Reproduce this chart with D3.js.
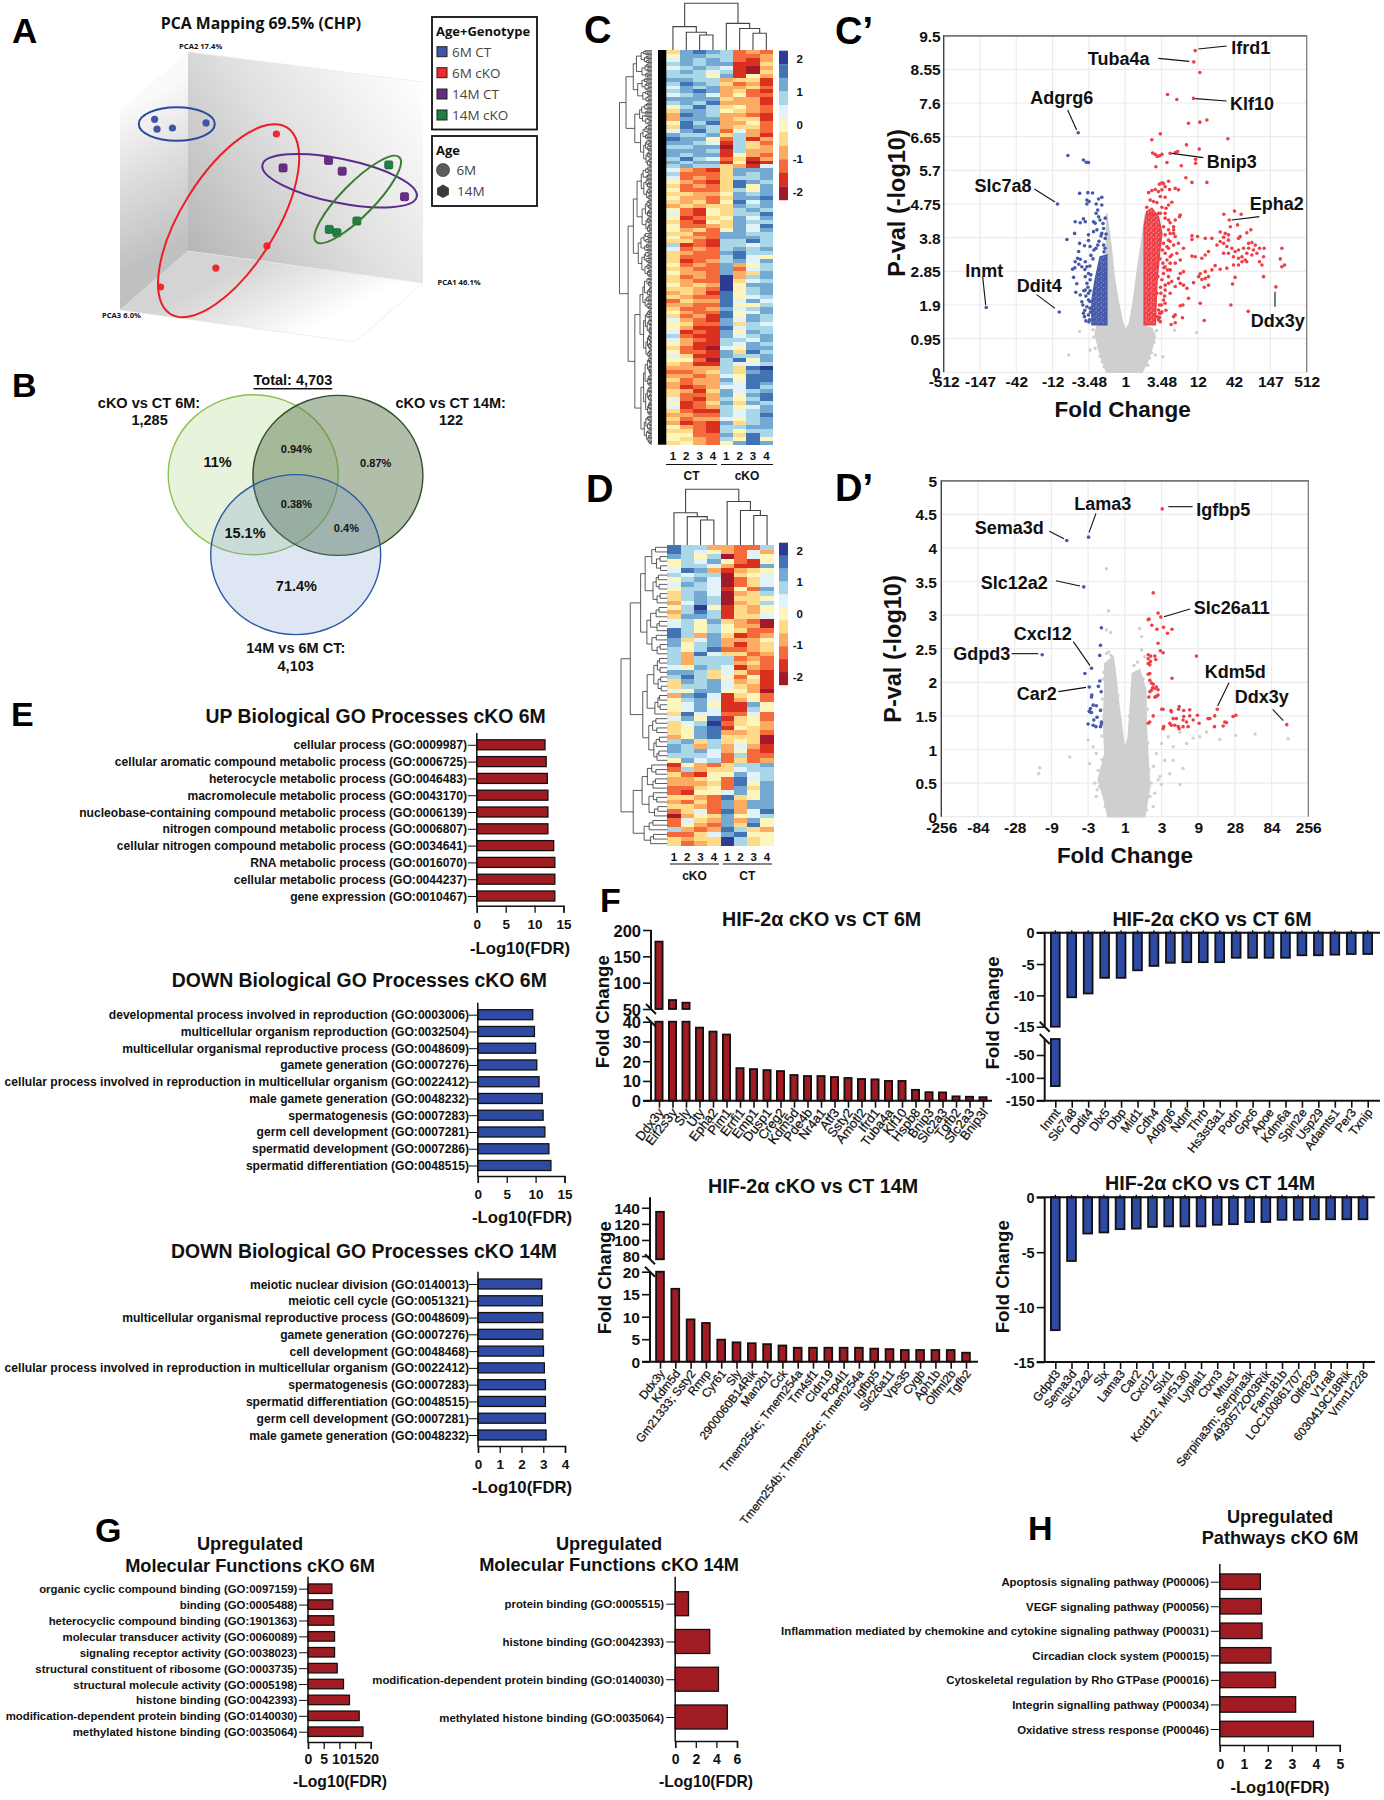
<!DOCTYPE html>
<html><head><meta charset="utf-8">
<style>html,body{margin:0;background:#fff}svg{display:block}text{font-family:"Liberation Sans",Arial,sans-serif;fill:#111}</style>
<script src="https://cdn.jsdelivr.net/npm/d3@7"></script>
</head><body><script>
// ---------- PCA ----------
const pcaGroups=["6M CT","6M cKO","14M CT","14M cKO"];
const pc1={"6M CT":[15.6,16.3,20.7,30.3],"6M cKO":[50.4,47.7,33.1,17.3],"14M CT":[52.3,65.3,69.2,87],"14M cKO":[82.5,73.4,65.5,67.7]};
const pc2={"6M CT":[76.9,73.6,74,75.7],"6M cKO":[72,34.7,27.3,21],"14M CT":[60.7,63.2,59.6,51.1],"14M cKO":[61.7,43,40.2,39.1]};
const pcaColors=["#3f56a8","#ee2a2e","#6b2a86","#1f7f45"];
// ---------- Heatmaps (level 0..A = -2..+2 in 0.4 steps) ----------
const heatC=["48987232","58877223","68787213","78788114","67876103","78767104","77758153","88773441","79874231","68783342","78983421","67863522","88884331","78793331","57974532","48875432","39873321","38883441","59793352","49873442","68972632","87784731","98852713","88761742","77880743","88871733","87881532","79762413","87881501","78774316",
"63214888","72224878","62324778","53214987","42324958","52224758","44335878","53324889","43425968","34344878","52154787","62154779","51245868","42154877","52234869","53425868","44228877","53328887","44217797","71217767","62327878","43228977","42227965","41237868","52328357","43228267","53328348","4232A378","4322A467","5343A588","4432A578","34319578","43229567","24339686","33229557","42238678","53229568","42319587","63218687","54228476","53119677","61218587","72118678","63217768","53117687","42106588","52218497","64118778","55207958","43117667",
"3333749A","22347489","33236599","42338599","32337698","31236697","43148678","42238589","62137579","51248487","61237568","42117678","33227679","42336578","31218478","53217788","44217577","55228497","54327595","45325898"];
const heatD=["97733227","97653263","87570265","57685215","57763118","69831345","76770456","57860246","68760246","57761528","47860347","47870445","36870347","57A51435","37971435","48871446","67584320","67575330","97575422","97384123","84683335","85783134","75792234","73964423","73777232","73777342","65876132","88746421","79745251","48786341","47786431","65885530","38961452","57861352","56851185","56861175","49662262","68591452","467A2453","45891543","45893342","35894440","78474540","87373631","87863521","77762722","58672423","15324778","27344677","42155867","33452967","33342958","22452848","21556858","44329458","32428388","44328388","24629369","03548567","26438385","25328495","73239743","22468955","4344A745","4234A745"];
const heatColors=["#a2192c","#d9301f","#f46a3b","#fbab62","#fedb88","#fef5bd","#e1f3f8","#a9d7e8","#74aad1","#4274b5","#2e3a94"];
const legendTicks=[2,1,0,-1,-2];
const colTreeC=[1,[.5,0,[.38,1,[.32,2,3]]],[.57,4,[.46,5,[.36,6,7]]]];
const colTreeD=[1,[.58,0,[.51,1,[.45,2,3]]],[.78,4,[.62,5,[.53,6,7]]]];
const rowSplitsC=[.296,.45,.52,.48,.4,.6,.5,.35,.55,.62,.44,.5,.38,.66,.5,.57,.42];
const rowSplitsD=[.725,.52,.55,.45,.4,.6,.5,.36,.58,.62,.44,.5,.38,.66,.5,.57,.42];
const rowStep=[.22,.2,.28,.17,.3,.24,.18,.33,.26,.21];
// ---------- Volcano C' (x = signed log2 fold change, y = -log10 p) ----------
const cTickPos=[-9,-7.2,-5.4,-3.6,-1.8,0,1.8,3.6,5.4,7.2,9];
const cTickLab=["-512","-147","-42","-12","-3.48","1","3.48","12","42","147","512"];
const cYTicks=[0,.95,1.9,2.85,3.8,4.75,5.7,6.65,7.6,8.55,9.5];
const cGrayX=[-.92,-1.08,-1.33,-1.49,-1.41,-.92,-.92,-.78,-.66,-.55,-.33,-.12,.02,.21,.41,.61,.83,1,1.05,1.33,1.49,1.33,1.07,.83];
const cGrayY=[0,.25,.68,1.1,1.3,1.34,4.49,3.92,3.35,2.7,1.95,1.38,1.19,1.38,2.04,2.9,3.75,4.49,1.29,1.24,1.01,.68,.25,0];
const cGrayPtsX=[-2.26,-2.81,-1.74,-1.49,1.87,1.49,1.24,2.45,3.54,1.4,-1.6,-1.55,-1.25,-1.15,-1.05,1.2,1.3,1.42,1.55,1.12];
const cGrayPtsY=[1.15,.49,.63,.68,.44,.49,.71,1.19,1.12,1.1,1.2,1,.45,.3,.15,.4,.55,.85,1.18,.2];
const cRedDenseX=[.94,1.49,1.57,1.7,1.82,1.65,1.32,1.07,.94];
const cRedDenseY=[1.34,1.34,2.51,3.36,3.92,4.39,4.63,4.53,4.11];
const cBlueDenseX=[-.91,-.91,-1.24,-1.49,-1.65,-1.65];
const cBlueDenseY=[1.34,3.31,3.26,2.61,2.04,1.34];
const cRedX=[3.47,3.4,3.7,2.1,2.56,3.39,4.05,3.7,3.14,1.74,1.32,5.09,3.04,3.67,1.36,1.49,1.59,1.7,1.82,2.23,2.48,2.6,3.49,3.49,2.07,2.78,1.52,3.01,3.31,4.05,
1.82,1.9,1.7,2.15,1.98,2.48,2.64,1.32,1.49,1.65,1.82,1.16,2.2,1.74,1.98,1.4,1.57,1.24,2.31,2.15,1.82,2.03,1.07,2.73,2.48,2.23,2.4,1.98,1.65,1.32,
4.89,5.42,5.75,5.16,5.57,5.21,4.71,4.96,5.12,6.23,6.03,5.7,4.88,5.12,5.62,6.12,6.28,6.45,5.87,6.12,6.36,6.89,6.66,4.88,5.04,5.29,5.62,4.88,5.12,5.45,6.03,6.28,6.53,6.86,7.77,7.69,7.9,7.77,5.37,5.62,5.79,5.95,5.37,5.62,5.79,6.03,6.66,6.78,6.86,5.45,5.32,7.47,5.24,6.1,4.71,4.55,4.3,3.97,3.59,3.31,3.31,4.13,3.97,3.8,3.47,3.31,4.46,4.71,5.04,4.3,3.97,3.72,3.64,3.97,4.13,3.8,3.39,4.13,3.92,3.72,3.92,
2.4,2.48,2.15,2.4,2.64,2.89,2.15,2.56,2.23,2.07,2.73,2.48,1.98,2.23,2.73,2.89,2.64,2.15,2.31,2.89,3.06,2.73,2.48,1.98,2.23,3.14,2.73,2.86,1.98,1.82,1.7,2.48,2.84,2.48,2.28,2.4,
1.65,1.77,1.7,1.9,1.77,1.98,1.82,2.15,1.9,2.1,1.87,2.23,1.98,2.31,2.07,1.9,2.23,1.98,2.15,1.9,2.23,2.4,1.74,1.98,2.15,2.69,1.57,1.65,1.74,1.57,1.62,1.72,1.85,1.95,1.7,1.8,1.6,1.75,1.92,2.02];
const cRedY=[9.08,8.76,8.46,7.84,7.7,7.73,7.12,7.06,7.03,6.73,6.56,6.59,6.42,6.3,6.19,6.15,6.09,6.11,6.15,6.18,6.2,6.23,6.01,5.9,5.92,5.83,5.8,5.49,5.36,5.36,
5.35,5.33,5.31,5.39,5.24,5.19,5.15,5.13,5.16,5.1,5.15,5.07,5.16,4.96,4.94,4.82,4.79,4.86,4.8,4.72,4.66,4.63,4.66,4.44,4.3,4.22,4.02,4.49,4.49,4.44,
4.46,4.55,4.46,4.3,4.16,4.11,3.96,3.92,3.88,4.02,3.94,3.83,3.81,3.73,3.78,3.64,3.66,3.59,3.5,3.5,3.45,3.5,3.5,3.64,3.55,3.5,3.45,3.36,3.36,3.41,3.36,3.31,3.36,3.26,3.5,3.2,3.03,2.98,3.26,3.22,3.26,3.17,3.03,3.03,3.12,3.12,3.12,3.03,2.7,2.68,2.49,2.41,1.9,1.72,3.69,3.59,3.78,3.78,3.83,3.85,3.75,3.41,3.31,3.22,3.26,3.28,3.01,2.91,2.94,2.89,2.84,2.78,2.7,2.65,2.7,2.62,2.53,2.46,2.4,1.95,1.46,
3.92,3.83,3.73,3.59,3.64,3.5,3.5,3.36,3.26,3.17,3.17,3.08,2.98,2.89,2.79,2.84,2.65,2.7,2.56,2.46,2.37,2.51,2.42,2.32,2.23,2.09,1.88,1.9,1.95,1.71,1.67,1.62,1.54,1.4,1.35,1.57,
1.48,1.67,1.9,2.04,2.23,2.46,2.61,2.51,2.79,2.89,3.08,3.08,3.36,3.31,3.55,3.64,3.69,3.88,4.02,4.11,3.92,4.11,4.49,4.35,4.3,4.39,1.57,1.76,1.43,2.23,2.7,3.2,3.45,2.15,1.55,1.9,3.0,2.4,2.95,1.75];
const cBlueX=[-2.33,-2.84,-2.07,-1.93,-1.82,-2.26,-1.85,-1.62,-3.36,-1.16,-1.32,-1.9,-1.79,-1.9,-1.44,-1.16,-1.36,-1.44,-.99,-1.32,-2.48,-2.23,-2.07,-1.98,-1.57,-1.49,-2.51,-2.89,-1.82,-1.57,-1.4,-1.07,-1.16,-.99,-1.82,-2.26,-2.02,-1.74,-2.31,-1.36,-1.07,-2.36,-2.48,-2.23,-1.98,-2.61,-1.9,-2.15,-1.82,-1.98,-2.56,-1.74,-1.9,-2.45,-2.23,-1.98,-1.82,-2.15,-1.82,-3.27,-6.89,-2.07,-2.02,-1.82,-1.74,-1.77,
-1.74,-1.85,-1.95,-2.05,-1.75,-1.9,-2,-1.72,-1.8,-1.95,-2.1,-1.7,-1.75,-1.6,-1.7,-1.55,-1.45,-1.3,-1.2,-1.05,-1,-.95,-1.1,-1.25,-2,-2.3,-2.5,-2.4];
const cBlueY=[6.76,6.12,5.99,5.93,5.92,5.05,5.07,5.06,4.75,4.94,4.89,4.86,4.82,4.75,4.75,4.72,4.58,4.49,4.35,4.39,4.25,4.22,4.33,4.25,4.25,4.21,3.92,3.75,3.88,3.97,4.02,4.06,3.92,3.78,3.72,3.64,3.57,3.55,3.41,3.59,3.59,3.22,3.12,3.19,3.12,2.91,2.98,2.98,2.79,2.7,2.68,2.61,2.51,2.26,2.18,2.32,2.23,1.99,2.04,1.7,1.83,1.67,1.57,1.62,1.81,1.48,
2.3,2.4,2.15,2.3,2,1.85,1.75,1.7,1.42,1.45,1.9,2.75,3,3.2,3.3,3.45,3.5,3.7,3.85,3.4,3.5,3.9,4.2,4.3,2.9,3.05,2.95,2.5];
const cLabels=["Ifrd1","Tuba4a","Klf10","Adgrg6","Bnip3","Slc7a8","Epha2","Inmt","Ddit4","Ddx3y"];
// ---------- Volcano D' ----------
const dTickPos=[-8,-6.4,-4.8,-3.2,-1.6,0,1.6,3.2,4.8,6.4,8];
const dTickLab=["-256","-84","-28","-9","-3","1","3","9","28","84","256"];
const dYTicks=[0,.5,1,1.5,2,2.5,3,3.5,4,4.5,5];
const dGrayX=[-.73,-.94,-1.16,-.87,-.94,-.87,-.87,-.51,-.39,-.25,-.1,0,.15,.25,.33,.65,.92,.94,1.02,1.09,.87];
const dGrayY=[0,.3,.55,.94,1.44,1.88,2.28,2.38,2.08,1.64,1.24,.99,1.19,1.69,2.13,2.19,1.88,1.34,.84,.45,0];
const dGrayPtsX=[-.8,-.71,-.8,-.62,-.8,.65,.73,.73,.87,-1.6,-1.38,-1.53,-1.24,-1.16,-2.4,-3.71,-3.75,1.6,1.89,2.11,2.4,2.69,2.98,3.27,3.56,4.14,4.83,5.68,7.12,2.11,2.54,2.4,1.53,1.24,1.16,1.38,1.74,1.96,
-1,-1.05,-.98,-.95,-.92,-.7,-.6,-.45,-.3,-.2,.2,.3,.4,.55,.8,.98,1,1.05,1.1,-1,-1.1,-1.2,-.85,.95,-1.3,-1.25,1.3,1.45,1.6,1.25];
const dGrayPtsY=[3.69,3.06,2.78,2.74,2.43,2.8,2.68,2.48,2.38,1.14,1.04,.79,.94,.69,.89,.73,.64,1.09,1.19,1.04,1.26,1.09,1.17,1.19,1.26,1.15,1.21,1.23,1.16,.84,.72,.48,.6,.15,.5,.94,.84,.64,
1.2,1.6,1.75,2.05,2.15,2.45,2.4,2.2,1.8,1.45,1.5,1.9,2.25,2.3,2.05,1.6,1.1,.7,.3,.85,.45,.4,.15,.1,.5,.3,.35,.55,.48,.75];
const dRedX=[1.63,1.24,1.45,1.57,1.02,1.06,1.18,1.4,1.69,2.06,1.86,1.45,1.55,1.67,3.12,1.02,1.13,1.31,1.35,1.02,1.12,1.02,1.09,1.02,1.09,2.06,1.09,1.16,1.24,1.38,1.45,1.31,1.16,1.09,1.21,1.05,1.31,1.45,1.38,
1.67,1.61,2.01,2.03,2.34,2.37,2.57,2.83,3.17,4.03,3.92,3.71,3.63,4.84,4.72,3.91,4.29,4.36,4.43,7.06,1.24,1.02,1.09,1.7,1.67,1.96,2.03,2.11,2.25,2.33,2.37,2.57,2.54,2.69,2.83,2.76,2.98,3.24,2.18,2.54];
const dRedY=[4.58,3.33,3.03,2.97,2.93,2.94,2.85,2.79,2.82,2.79,2.73,2.58,2.47,2.44,2.39,2.41,2.39,2.39,2.34,2.35,2.31,2.28,2.26,2.12,2.13,2.06,2.03,1.99,1.97,1.93,1.89,1.91,1.88,1.86,1.92,1.78,1.78,1.81,1.79,
1.6,1.6,1.58,1.56,1.6,1.64,1.58,1.59,1.51,1.6,1.5,1.46,1.46,1.51,1.49,1.34,1.35,1.41,1.4,1.37,1.5,1.39,1.41,1.34,1.31,1.39,1.36,1.46,1.46,1.34,1.31,1.49,1.44,1.41,1.5,1.34,1.44,1.39,1.36,1.34];
const dBlueX=[-2.53,-1.58,-1.79,-1.02,-1.06,-1.09,-3.6,-1.45,-1.74,-1.55,-1.09,-1.15,-1.03,-1.44,-1.45,-1.38,-1.24,-1.5,-1.53,-1.45,-1.55,-1.06,-1.21,-1.35,-1.6,-1.38,-1.26,-1.02,-1.02,-1.06];
const dBlueY=[4.11,4.16,3.42,2.81,2.55,2.4,2.41,2.21,2.13,1.93,2.02,1.94,1.86,1.81,1.78,1.66,1.65,1.61,1.56,1.55,1.57,1.58,1.48,1.44,1.38,1.36,1.34,1.41,1.38,1.34];
const dLabels=["Lama3","Igfbp5","Sema3d","Slc12a2","Slc26a11","Cxcl12","Gdpd3","Car2","Kdm5d","Ddx3y"];
// ---------- Panel E ----------
const e1Labels=["cellular process (GO:0009987)","cellular aromatic compound metabolic process (GO:0006725)","heterocycle metabolic process (GO:0046483)","macromolecule metabolic process (GO:0043170)","nucleobase-containing compound metabolic process (GO:0006139)","nitrogen compound metabolic process (GO:0006807)","cellular nitrogen compound metabolic process (GO:0034641)","RNA metabolic process (GO:0016070)","cellular metabolic process (GO:0044237)","gene expression (GO:0010467)"];
const e1Values=[11.8,12,12.2,12.3,12.3,12.3,13.3,13.5,13.5,13.5];
const e2Labels=["developmental process involved in reproduction (GO:0003006)","multicellular organism reproduction (GO:0032504)","multicellular organismal reproductive process (GO:0048609)","gamete generation (GO:0007276)","cellular process involved in reproduction in multicellular organism (GO:0022412)","male gamete generation (GO:0048232)","spermatogenesis (GO:0007283)","germ cell development (GO:0007281)","spermatid development (GO:0007286)","spermatid differentiation (GO:0048515)"];
const e2Values=[9.5,9.8,10,10.2,10.6,11.15,11.3,11.6,12.3,12.65];
const e3Labels=["meiotic nuclear division (GO:0140013)","meiotic cell cycle (GO:0051321)","multicellular organismal reproductive process (GO:0048609)","gamete generation (GO:0007276)","cell development (GO:0048468)","cellular process involved in reproduction in multicellular organism (GO:0022412)","spermatogenesis (GO:0007283)","spermatid differentiation (GO:0048515)","germ cell development (GO:0007281)","male gamete generation (GO:0048232)"];
const e3Values=[2.93,2.96,2.98,2.98,3.01,3.05,3.1,3.1,3.1,3.13];
// ---------- Panel F ----------
const f1Labels=["Ddx3y","Eif2s3y","Sly","Uty","Epha2","Pim1","Errfi1","Emp1","Dusp1","Creg2","Kdm5d","Pde4b","Nr4a1","Atf3","Ssty2","Amotl2","Ifrd1","Tuba4a","Klf10","Hspb8","Bnip3","Slc2a3","Tgfb2","Slc2a3","Bnip3l"];
const f1Values=[178,67,62,37,35,33.5,16.5,16,15.5,15,13,12.5,12.5,12,11.5,11,10.8,10,10,5.5,4.3,4.2,2.2,2,1.8];
const f2Labels=["Inmt","Slc7a8","Ddit4","Dlx5","Dbp","Mid1","Cdh4","Adgrg6","Ndnf","Thrb","Hs3st3a1","Podn","Gpc6","Apoe","Kdm6a","Spin2e","Usp29","Adamts1","Per3","Txnip"];
const f2Values=[-118,-10.3,-9.7,-7.2,-7.2,-6,-5.3,-4.8,-4.7,-4.7,-4.7,-4,-4,-4,-4,-3.6,-3.6,-3.5,-3.4,-3.4];
const f3Labels=["Ddx3y","Kdm5d","Gm21333; Ssty2","Rmrp","Cyr61","Sly","2900060B14Rik","Man2b1","Cck","Tmem254c; Tmem254a","Tm4sf1","Cldn19","Pcp4l1","Tmem254b; Tmem254c; Tmem254a","Igfbp5","Slc26a11","Vps35","Cygb","Aph1b","Olfml2b","Tgfb2"];
const f3Values=[135,16.2,9.4,8.6,4.9,4.3,4.1,3.9,3.6,3.1,3.1,3.1,3.1,3.1,2.9,2.8,2.6,2.6,2.6,2.6,2];
const f4Labels=["Gdpd3","Sema3d","Slc12a2","Slx","Lama3","Car2","Cxcl12","Slxl1","Kctd12; Mir5130","Lyplal1","Ctxn3","Mtus1","Serpina3m; Serpina3k","4930572O03Rik","Fam181b","LOC100861707","Olfr829","V1ra8","6030419C18Rik","Vmn1r228"];
const f4Values=[-12.1,-5.8,-3.3,-3.2,-2.9,-2.85,-2.7,-2.65,-2.65,-2.65,-2.5,-2.45,-2.25,-2.25,-2.05,-2.05,-2,-2,-2,-2];
// ---------- Panels G, H ----------
const g1Labels=["organic cyclic compound binding (GO:0097159)","binding (GO:0005488)","heterocyclic compound binding (GO:1901363)","molecular transducer activity (GO:0060089)","signaling receptor activity (GO:0038023)","structural constituent of ribosome (GO:0003735)","structural molecule activity (GO:0005198)","histone binding (GO:0042393)","modification-dependent protein binding (GO:0140030)","methylated histone binding (GO:0035064)"];
const g1Values=[7.6,7.9,8.2,8.45,8.45,9.3,11.3,13.2,16.3,17.5];
const g2Labels=["protein binding (GO:0005515)","histone binding (GO:0042393)","modification-dependent protein binding (GO:0140030)","methylated histone binding (GO:0035064)"];
const g2Values=[1.29,3.35,4.2,5.06];
const hLabels=["Apoptosis signaling pathway (P00006)","VEGF signaling pathway (P00056)","Inflammation mediated by chemokine and cytokine signaling pathway (P00031)","Circadian clock system (P00015)","Cytoskeletal regulation by Rho GTPase (P00016)","Integrin signalling pathway (P00034)","Oxidative stress response (P00046)"];
const hValues=[1.69,1.73,1.76,2.13,2.32,3.16,3.9];

// ===================== drawing =====================
const RED="#a01c22",BLUE="#2f4aa3";
const svg=d3.select("body").append("svg").attr("width",1384).attr("height",1800).attr("viewBox","0 0 1384 1800");
const defs=svg.append("defs");
function T(x,y,s,o={}){const t=(o.g||svg).append("text").attr("x",x).attr("y",y).text(s)
 .attr("font-size",o.size||12).attr("font-weight",o.weight||"bold").attr("text-anchor",o.anchor||"middle").attr("dominant-baseline",o.base||"central");
 if(o.family)t.style("font-family",o.family); if(o.fill)t.style("fill",o.fill); if(o.rot!=null)t.attr("transform",`rotate(${o.rot} ${x} ${y})`); if(o.deco)t.attr("text-decoration",o.deco); return t;}
function L(x1,y1,x2,y2,c="#111",w=1,g=svg){return g.append("line").attr("x1",x1).attr("y1",y1).attr("x2",x2).attr("y2",y2).attr("stroke",c).attr("stroke-width",w);}
function grad(id,x1,y1,x2,y2,stops){const g=defs.append("linearGradient").attr("id",id).attr("gradientUnits","userSpaceOnUse").attr("x1",x1).attr("y1",y1).attr("x2",x2).attr("y2",y2);
 stops.forEach(s=>g.append("stop").attr("offset",s[0]).attr("stop-color",s[1]));return `url(#${id})`;}
function speck(id,bg,fg){const p=defs.append("pattern").attr("id",id).attr("patternUnits","userSpaceOnUse").attr("width",5).attr("height",5);
 p.append("rect").attr("width",5).attr("height",5).attr("fill",bg);
 [[1,1,.7],[3.6,2.4,.6],[1.8,4,.6]].forEach(c=>p.append("circle").attr("cx",c[0]).attr("cy",c[1]).attr("r",c[2]).attr("fill",fg));return `url(#${id})`;}
const spRed=speck("sr","#ee3f46","#f9a9ab"),spBlue=speck("sb","#4658aa","#8d99cf");
// panel letters
[["A",12,43,35],["B",12,397,34],["C",584,43,38],["C’",835,44,38],["D",586,502,38],["D’",835,501,38],["E",11,726,34],["F",600,912,34],["G",95,1542,34],["H",1028,1540,34]]
 .forEach(d=>T(d[1],d[2],d[0],{size:d[3],anchor:"start",base:"auto",fill:"#000"}));

// ---- A: PCA
const OS='"Open Sans",sans-serif';
T(261,23,"PCA Mapping 69.5% (CHP)",{size:15.8,family:OS});
const px=d3.scaleLinear([0,100],[100,450]),py=d3.scaleLinear([0,100],[350,50]);
const poly=(pts,f)=>svg.append("path").attr("d","M"+pts.join("L")+"Z").attr("fill",f);
poly([[188,52],[423,82],[423,283],[188,251]],grad("gb",188,251,423,82,[[0,"#b6b6b6"],[.5,"#e0e0e0"],[1,"#ffffff"]]));
poly([[120,110],[188,52],[188,251],[120,310]],grad("gl",188,240,120,110,[[0,"#c0c0c0"],[.55,"#dedede"],[1,"#fafafa"]]));
poly([[120,310],[188,251],[423,283],[355,342]],grad("gf",250,262,290,340,[[0,"#d4d4d4"],[1,"#ffffff"]]));
[[[188,52],[423,82]],[[188,251],[423,283]],[[120,310],[355,342]],[[423,283],[355,342]]].forEach(s=>L(s[0][0],s[0][1],s[1][0],s[1][1],"#e6e6e6",.7));
T(200.7,46,"PCA2 17.4%",{size:7.6,family:OS});T(459,282,"PCA1 46.1%",{size:7.6,family:OS});T(121.4,314.7,"PCA3 6.0%",{size:7.6,family:OS});
pcaGroups.forEach((g,i)=>{pc1[g].forEach((v,j)=>{const x=px(v),y=py(pc2[g][j]);
 if(i<2)svg.append("circle").attr("cx",x).attr("cy",y).attr("r",3.6).attr("fill",pcaColors[i]);
 else svg.append("rect").attr("x",x-4).attr("y",y-4).attr("width",8).attr("height",8).attr("rx",1.5).attr("fill",pcaColors[i]).attr("stroke",d3.color(pcaColors[i]).darker(.6)).attr("stroke-width",.8);});});
[[176.8,124,38,16.7,0,"#2a4aa0"],[228.6,220.7,110,47,-58,"#ee1c25"],[339.6,180.8,78.8,22,11.6,"#5b2a8c"],[357.7,199.5,59.3,16.4,-45.4,"#3c7d2e"]].forEach(e=>
 svg.append("ellipse").attr("rx",e[2]).attr("ry",e[3]).attr("transform",`translate(${e[0]},${e[1]}) rotate(${e[4]})`).attr("fill","none").attr("stroke",e[5]).attr("stroke-width",2));
svg.append("rect").attr("x",432).attr("y",17).attr("width",105).attr("height",112.5).attr("fill","#fff").attr("stroke","#111").attr("stroke-width",1.8);
svg.append("rect").attr("x",432).attr("y",136).attr("width",105).attr("height",70).attr("fill","#fff").attr("stroke","#111").attr("stroke-width",1.8);
T(436,30.7,"Age+Genotype",{size:13,anchor:"start",family:OS});T(436,150,"Age",{size:13,anchor:"start",family:OS});
pcaGroups.forEach((g,i)=>{const y=[51.7,72.7,94,115][i];
 svg.append("rect").attr("x",437).attr("y",y-5).attr("width",10).attr("height",10).attr("fill",pcaColors[i]).attr("stroke","#222").attr("stroke-width",1);
 T(452,y,g,{size:13.5,weight:"normal",anchor:"start",family:OS,fill:"#444"});});
svg.append("circle").attr("cx",443).attr("cy",170).attr("r",6.6).attr("fill","#5c5c5c").attr("stroke","#333").attr("stroke-width",.6);
svg.append("path").attr("d",d3.range(6).map((k,i)=>(i?"L":"M")+(443+6.8*Math.sin(k*Math.PI/3))+","+(191.3-6.8*Math.cos(k*Math.PI/3))).join("")+"Z").attr("fill","#3a3a3a");
T(456.4,170,"6M",{size:13.5,weight:"normal",anchor:"start",family:OS,fill:"#444"});T(457,191.3,"14M",{size:13.5,weight:"normal",anchor:"start",family:OS,fill:"#444"});

// ---- B: Venn
[[253.2,474.7,"#a8d47a",.27,"#8cc152"],[337.9,475.4,"#5f7a50",.49,"#33502c"],[295.7,554.6,"#6a8cc8",.22,"#2c5aa6"]].forEach(c=>
 svg.append("ellipse").attr("cx",c[0]).attr("cy",c[1]).attr("rx",85).attr("ry",80).attr("fill",c[2]).attr("fill-opacity",c[3]).attr("stroke",c[4]).attr("stroke-width",1.4));
T(292.9,380,"Total: 4,703",{size:14.5,deco:"underline"});
[[149,402.5,"cKO vs CT 6M:"],[149.6,420,"1,285"],[450.7,402.5,"cKO vs CT 14M:"],[451,420,"122"],[295.7,647.8,"14M vs 6M CT:"],[295.7,665.6,"4,103"],[217.5,461.7,"11%"],[245,532.8,"15.1%"],[296.4,585.7,"71.4%"]].forEach(d=>T(d[0],d[1],d[2],{size:14.5}));
[[296.4,448.8,"0.94%"],[375.7,462.5,"0.87%"],[296.4,503.5,"0.38%"],[346.4,528.3,"0.4%"]].forEach(d=>T(d[0],d[1],d[2],{size:11}));

// ---- heatmaps
function heat(rows,cfg){
 const x=d3.scaleBand(d3.range(8),[cfg.x0,cfg.x1]),y=d3.scaleBand(d3.range(rows.length),[cfg.y0,cfg.y1]);
 const col=d3.scaleQuantize([-2.2,2.2],heatColors);
 const g=svg.append("g").attr("shape-rendering","crispEdges");
 rows.forEach((r,i)=>[...r].forEach((c,j)=>g.append("rect").attr("x",x(j)).attr("y",y(i)).attr("width",x.bandwidth()+.3).attr("height",y.bandwidth()+.3).attr("fill",col((parseInt(c,11)-5)*.4))));
 // column dendrogram
 const h=d3.scaleLinear([0,1],[cfg.y0,cfg.top]);
 const walk=n=>{if(typeof n==="number")return{x:x(n)+x.bandwidth()/2,y:cfg.y0};
  const a=walk(n[1]),b=walk(n[2]),Y=h(n[0]);
  svg.append("path").attr("d",`M${a.x},${a.y}V${Y}H${b.x}V${b.y}`).attr("fill","none").attr("stroke","#444").attr("stroke-width",1.1);
  return{x:(a.x+b.x)/2,y:Y};};
 walk(cfg.tree);
 // row dendrogram
 let k=0;const dg=svg.append("g").attr("fill","none").attr("stroke","#333").attr("stroke-width",.8);
 const nLeaf=rows.length*(cfg.dens||1);const yl=d3.scaleBand(d3.range(nLeaf),[cfg.y0,cfg.y1]);
 const rowT=(lo,hi,X)=>{
  if(hi-lo<=1)return{x:cfg.leaf,y:yl(lo)+yl.bandwidth()/2};
  const f=cfg.splits[k%cfg.splits.length];k++;
  const mid=Math.min(hi-1,Math.max(lo+1,lo+Math.round((hi-lo)*f)));
  const st=rowStep[k%rowStep.length];
  const nx=X+(cfg.leaf-X)*st;
  const a=rowT(lo,mid,nx),b=rowT(mid,hi,nx+(cfg.leaf-nx)*.08);
  dg.append("path").attr("d",`M${a.x},${a.y}H${X}V${b.y}H${b.x}`);
  return{x:X,y:(a.y+b.y)/2};};
 rowT(0,nLeaf,cfg.root);
 if(cfg.block)svg.append("rect").attr("x",cfg.block).attr("y",cfg.y0).attr("width",cfg.x0-cfg.block).attr("height",cfg.y1-cfg.y0).attr("fill","#000");
 // numbers & groups
 const nums=[1,2,3,4,1,2,3,4];
 nums.forEach((n,j)=>T(x(j)+x.bandwidth()/2,cfg.numY,n,{size:11.5}));
 L(cfg.l1[0],cfg.lineY,cfg.l1[1],cfg.lineY,"#111",1);L(cfg.l2[0],cfg.lineY,cfg.l2[1],cfg.lineY,"#111",1);
 T((cfg.l1[0]+cfg.l1[1])/2,cfg.grpY,cfg.g1,{size:12});T((cfg.l2[0]+cfg.l2[1])/2,cfg.grpY,cfg.g2,{size:12});
 // colour legend
 const ly=d3.scaleBand(d3.range(11),[cfg.legY0,cfg.legY1]);
 [...heatColors].reverse().forEach((c,i)=>svg.append("rect").attr("x",779).attr("y",ly(i)).attr("width",9).attr("height",ly.bandwidth()+.2).attr("fill",c));
 const lt=d3.scaleLinear([2,-2],[ly(0)+8,ly(10)+ly.bandwidth()-8]);
 legendTicks.forEach(v=>T(803,lt(v),v,{size:11.5,anchor:"end"}));
}
heat(heatC,{x0:666.3,x1:773,y0:50,y1:444.7,top:3.3,tree:colTreeC,splits:rowSplitsC,root:619.5,leaf:652,block:658,dens:3,numY:456,lineY:464.5,l1:[666,717],l2:[721,773],g1:"CT",g2:"cKO",grpY:476,legY0:50.7,legY1:200});
heat(heatD,{x0:667.3,x1:773.7,y0:545,y1:846,top:489.3,tree:colTreeD,splits:rowSplitsD,root:621,leaf:667.3,numY:856.7,lineY:864,l1:[670,719],l2:[722.7,772],g1:"cKO",g2:"CT",grpY:875.7,legY0:542.7,legY1:685});

// ---- volcano
function volcano(c){
 const x=d3.scaleLinear(c.xd,[c.x0,c.x1]),y=d3.scaleLinear(c.yd,[c.y0,c.y1]);
 const grid=svg.append("g").attr("stroke","#ececec").attr("stroke-width",1.2);
 c.xTicks.forEach(v=>grid.append("line").attr("x1",x(v)).attr("x2",x(v)).attr("y1",c.y0).attr("y2",c.y1));
 c.yTicks.forEach(v=>grid.append("line").attr("y1",y(v)).attr("y2",y(v)).attr("x1",c.x0).attr("x2",c.x1));
 const line=d3.line().x(d=>x(d[0])).y(d=>y(d[1]));
 const area=(X,Y,f,sc)=>svg.append("path").attr("d",line(d3.zip(X,Y))+"Z").attr("fill",f).attr("stroke",sc).attr("stroke-width",1.5);
 const dots=(X,Y,f,r)=>svg.append("g").attr("fill",f).selectAll("circle").data(d3.zip(X,Y)).join("circle").attr("cx",d=>x(d[0])).attr("cy",d=>y(d[1])).attr("r",r);
 area(c.grayX,c.grayY,"#cfcfcf","#cfcfcf");dots(c.gpx,c.gpy,"#cfcfcf",1.7);
 if(c.rdx)area(c.rdx,c.rdy,spRed,"#ee3f46");if(c.bdx)area(c.bdx,c.bdy,spBlue,"#4658aa");
 dots(c.rx,c.ry,"#ee3f46",1.8);dots(c.bx,c.by,"#4658aa",1.8);
 svg.append("path").attr("d",`M${c.x0},${c.y0}V${c.y1}H${c.x1}`).attr("fill","none").attr("stroke","#444").attr("stroke-width",1.4);
 svg.append("path").attr("d",`M${c.x0},${c.y1}H${c.x1}V${c.y0}`).attr("fill","none").attr("stroke","#777").attr("stroke-width",1.2);
 const ax=svg.append("g").attr("transform",`translate(0,${c.y0})`).call(d3.axisBottom(x).tickValues(c.xTicks).tickSize(0).tickFormat((d,i)=>c.xLab[i]));
 ax.select(".domain").remove();ax.selectAll("text").attr("y",c.xLabY-c.y0).attr("dy",0).attr("dominant-baseline","central").attr("font-size",15.5).attr("font-weight","bold").attr("font-family",null);
 const ay=svg.append("g").attr("transform",`translate(${c.yLabX+2},0)`).call(d3.axisLeft(y).tickValues(c.yTicks).tickSize(0).tickFormat(d=>d));
 ay.select(".domain").remove();ay.selectAll("text").attr("x",-2).attr("dy",0).attr("dominant-baseline","central").attr("font-size",15.5).attr("font-weight","bold").attr("font-family",null);
 T(c.ylx,c.yly,"P-val (-log10)",{size:23.5,rot:-90});T(c.xlx,c.xly,"Fold Change",{size:22.5});
 c.labels.forEach((l,i)=>{const a=c.annot[i];T(a[0],a[1],l,{size:18});const z=c.z;const p=z(a[2]),q=z(a[3]);L(p[0],p[1],q[0],q[1],"#111",1.1);});
}
const z4=([a,b])=>[840+a/3,b/3],z5=([a,b])=>[840+a/3,460+b/3];
volcano({x0:943.7,x1:1306.7,y0:372.3,y1:35.7,xd:[-9,9],yd:[0,9.5],xTicks:cTickPos,xLab:cTickLab,yTicks:cYTicks,xLabY:381.7,yLabX:940.7,
 grayX:cGrayX,grayY:cGrayY,gpx:cGrayPtsX,gpy:cGrayPtsY,rdx:cRedDenseX,rdy:cRedDenseY,bdx:cBlueDenseX,bdy:cBlueDenseY,rx:cRedX,ry:cRedY,bx:cBlueX,by:cBlueY,
 ylx:896.7,yly:203,xlx:1122.7,xly:409,labels:cLabels,z:z4,
 annot:[[1250.7,48,[1075,147],[1160,138]],[1118.7,59,[955,175],[1048,184]],[1252,104,[1066,296],[1160,303]],[1061.7,97.7,[683,330],[710,390]],[1231.7,161.7,[995,460],[1090,473]],[1003,186,[583,567],[645,606]],[1276.7,204,[1175,660],[1258,650]],[984.3,271,[428,830],[437,915]],[1039.3,285.7,[590,884],[645,925]],[1277.7,320.7,[1305,875],[1305,920]]]});
volcano({x0:941.3,x1:1308.3,y0:816.7,y1:480.7,xd:[-8,8],yd:[0,5],xTicks:dTickPos,xLab:dTickLab,yTicks:dYTicks,xLabY:827.7,yLabX:937,
 grayX:dGrayX,grayY:dGrayY,gpx:dGrayPtsX,gpy:dGrayPtsY,rx:dRedX,ry:dRedY,bx:dBlueX,by:dBlueY,
 ylx:892.7,yly:649,xlx:1125,xly:855,labels:dLabels,z:z5,
 annot:[[1102.7,504.3,[768,160],[747,218]],[1223.3,510,[985,140],[1058,140]],[1009.3,528.3,[628,214],[672,236]],[1014.3,583,[648,362],[720,378]],[1231.7,608.3,[972,470],[1050,447]],[1042.7,634,[700,545],[750,617]],[981.7,654,[515,581],[595,581]],[1036.7,694.3,[655,695],[738,682]],[1235.3,672.3,[1167,668],[1133,738]],[1261.7,697.3,[1298,748],[1330,782]]]});

// ---- horizontal bars
function hbar(c){
 const x=d3.scaleLinear([0,c.max],[c.x0,c.x1]),y=d3.scalePoint(d3.range(c.labels.length),[c.r0,c.r1]);
 svg.append("g").selectAll("rect").data(c.values).join("rect").attr("x",x(0)).attr("y",(d,i)=>y(i)-c.h/2).attr("width",d=>x(d)-x(0)).attr("height",c.h).attr("fill",c.fill).attr("stroke","#111").attr("stroke-width",1.3);
 const ay=svg.append("g").attr("transform",`translate(${c.x0},0)`).call(d3.axisLeft(y).tickSize(c.tl||9).tickFormat(i=>c.labels[i]));
 ay.select(".domain").remove();ay.selectAll("line").attr("stroke","#111").attr("stroke-width",1);
 ay.selectAll("text").attr("x",c.lx-c.x0).attr("dy",0).attr("dominant-baseline","central").attr("font-size",c.fs).attr("font-weight","bold").attr("font-family",null);
 L(c.x0,c.top,c.x0,c.bot+.7,"#111",1.5);
 const ax=svg.append("g").attr("transform",`translate(0,${c.bot})`).call(d3.axisBottom(x).tickValues(c.ticks).tickSize(7).tickFormat(d=>d));
 ax.select(".domain").attr("stroke","#111").attr("stroke-width",1.5);ax.selectAll("line").attr("stroke","#111").attr("stroke-width",1.3);
 ax.selectAll("text").attr("y",c.tickY-c.bot).attr("dy",0).attr("dominant-baseline","central").attr("font-size",c.tfs||13.5).attr("font-weight","bold").attr("font-family",null);
 T(c.xlx,c.xly,"-Log10(FDR)",{size:c.xfs||16.7});
 c.title.forEach((t,i)=>T(c.tx,c.ty[i],t,{size:c.tsize||19.4}));
}
hbar({labels:e1Labels,values:e1Values,fill:RED,x0:476.8,x1:563.5,max:15,r0:744.8,r1:896,h:10,top:733,bot:905.7,ticks:[0,5,10,15],tickY:925,lx:467,fs:12.1,xlx:520,xly:948,title:["UP Biological GO Processes cKO 6M"],tx:375.7,ty:[716]});
hbar({labels:e2Labels,values:e2Values,fill:BLUE,x0:477.8,x1:564.5,max:15,r0:1014.7,r1:1165.5,h:10,top:1002.7,bot:1176,ticks:[0,5,10,15],tickY:1194,lx:469,fs:12.1,xlx:522,xly:1217,title:["DOWN Biological GO Processes cKO 6M"],tx:359.3,ty:[980]});
hbar({labels:e3Labels,values:e3Values,fill:BLUE,x0:478,x1:565,max:4,r0:1284,r1:1435,h:10,top:1271.7,bot:1446,ticks:[0,1,2,3,4],tickY:1464,lx:469,fs:12.1,xlx:522,xly:1487,title:["DOWN Biological GO Processes cKO 14M"],tx:364,ty:[1251]});
hbar({labels:g1Labels,values:g1Values,fill:RED,x0:308,x1:370.8,max:20,r0:1588.7,r1:1731.7,h:9.5,top:1576.7,bot:1742,ticks:[0,5,10,15,20],tickY:1759,lx:297.4,fs:11.4,tfs:14,xlx:340,xly:1781.7,xfs:15.7,title:["Upregulated","Molecular Functions cKO 6M"],tx:250,ty:[1544,1565.7],tsize:18.2});
hbar({labels:g2Labels,values:g2Values,fill:RED,x0:675.2,x1:737,max:6,r0:1603.7,r1:1717,h:24,top:1576.7,bot:1741,ticks:[0,2,4,6],tickY:1759,lx:664,fs:11.4,tfs:14,xlx:706,xly:1781.7,xfs:15.7,title:["Upregulated","Molecular Functions cKO 14M"],tx:609,ty:[1544,1565],tsize:18.2});
hbar({labels:hLabels,values:hValues,fill:RED,x0:1219.8,x1:1339.8,max:5,r0:1581.7,r1:1729,h:15.5,top:1564,bot:1745,ticks:[0,1,2,3,4,5],tickY:1764,lx:1209,fs:11.4,tfs:14,xlx:1280,xly:1787,xfs:16.5,title:["Upregulated","Pathways cKO 6M"],tx:1280,ty:[1517,1538],tsize:18.2});

// ---- vertical bars with optional axis break
function vbar(c){
 const x=d3.scalePoint(d3.range(c.labels.length),[c.b0,c.b1]);
 const lower=d3.scaleLinear(c.ld,c.lr),upper=c.ud?d3.scaleLinear(c.ud,c.ur):null;
 const g=svg.append("g").attr("fill",c.fill).attr("stroke","#111").attr("stroke-width",1.8);
 const over=v=>upper&&Math.abs(v)>Math.abs(c.breakAt);
 const seg=(i,a,b)=>{const y1=Math.min(a,b),y2=Math.max(a,b);g.append("rect").attr("x",x(i)-c.w/2).attr("y",y1).attr("width",c.w).attr("height",y2-y1);};
 c.values.forEach((v,i)=>{
  if(!upper)return seg(i,lower(0),lower(v));
  if(c.neg){ if(over(v)){seg(i,upper(0),upper(c.breakAt));seg(i,lower(c.breakAt),lower(v));} else seg(i,upper(0),upper(v)); }
  else { if(over(v)){seg(i,lower(0),lower(c.breakAt));seg(i,upper(c.ud[0]),upper(v));} else seg(i,lower(0),lower(v)); }
 });
 const yAxis=(s,ticks,a,b)=>{const ay=svg.append("g").attr("transform",`translate(${c.ax},0)`).call(d3.axisLeft(s).tickValues(ticks).tickSize(8).tickFormat(d=>d));
  ay.select(".domain").remove();ay.selectAll("line").attr("stroke","#111").attr("stroke-width",1.6);
  ay.selectAll("text").attr("dy",0).attr("x",-10).attr("dominant-baseline","central").attr("font-size",c.tfs).attr("font-weight","bold").attr("font-family",null);
  L(c.ax,a,c.ax,b,"#111",2);};
 if(upper){
  if(c.neg){yAxis(upper,c.ut,c.ur[0],c.ur[1]);yAxis(lower,c.lt,c.lr[0],c.lr[1]);
   [c.ur[1],c.lr[0]].forEach(yy=>L(c.ax-5,yy-5,c.ax+5,yy+5,"#111",2));}
  else{yAxis(lower,c.lt,c.lr[0],c.lr[1]);yAxis(upper,c.ut,c.ur[0],c.ur[1]);
   [c.ur[0],c.lr[1]].forEach(yy=>L(c.ax-5,yy-5,c.ax+5,yy+5,"#111",2));}
 } else {yAxis(lower,c.lt,c.lr[0],c.lr[1]);}
 const ax=svg.append("g").attr("transform",`translate(0,${c.base})`).call(d3.axisBottom(x).tickSize(7).tickFormat(i=>c.labels[i]));
 ax.select(".domain").remove();ax.selectAll("line").attr("stroke","#111").attr("stroke-width",1.6);
 ax.selectAll("text").attr("x",0).attr("y",0).attr("dy",0).attr("transform","translate(5,12) rotate(-52)").attr("text-anchor","end").attr("font-size",c.lfs).attr("font-family",null).style("stroke","#111").style("stroke-width",.25);
 L(c.ax-8,c.base,c.xEnd,c.base,"#111",2);
 if(c.neg){const zero=svg.append("g");L(c.ax-8,c.zeroY,c.xEnd,c.zeroY,"#111",2);
  zero.selectAll("line").data(d3.range(c.labels.length)).join("line").attr("x1",i=>x(i)).attr("x2",i=>x(i)).attr("y1",c.zeroY-2.5).attr("y2",c.zeroY).attr("stroke","#111").attr("stroke-width",1.4);}
 T(c.ylx,c.yly,"Fold Change",{size:18.7,rot:-90});
 T(c.tx,c.ty,"HIF-2α cKO vs CT "+c.age,{size:19.7});
}
vbar({labels:f1Labels,values:f1Values,fill:RED,b0:659,b1:983,w:7.2,ax:651,ld:[0,40],lr:[1100.7,1021.7],ud:[50,200],ur:[1009,930],breakAt:40,lt:[0,10,20,30,40],ut:[50,100,150,200],base:1100.7,xEnd:992,tfs:16.5,lfs:13,ylx:603,yly:1011.7,tx:821.7,ty:919,age:"6M"});
vbar({labels:f2Labels,values:f2Values,fill:BLUE,neg:true,b0:1055.3,b1:1367.7,w:8.8,ax:1044.7,ud:[0,-15],ur:[932.7,1026.7],ld:[-15,-150],lr:[1039,1100.7],breakAt:-15,ut:[0,-5,-10,-15],lt:[-50,-100,-150],base:1100.7,zeroY:932.7,xEnd:1380,tfs:14.5,lfs:12.3,ylx:992.7,yly:1013,tx:1212,ty:919,age:"6M"});
vbar({labels:f3Labels,values:f3Values,fill:RED,b0:660,b1:966,w:7.8,ax:650,ld:[0,20],lr:[1361.7,1271.7],ud:[76,153],ur:[1259.3,1197.3],breakAt:20,lt:[0,5,10,15,20],ut:[80,100,120,140],base:1361.7,xEnd:978,tfs:15.5,lfs:11.9,ylx:605,yly:1277.7,tx:813,ty:1186,age:"14M"});
vbar({labels:f4Labels,values:f4Values,fill:BLUE,neg:true,b0:1055.3,b1:1363,w:8.8,ax:1044.7,ld:[0,-15],lr:[1197.3,1362],lt:[0,-5,-10,-15],base:1362,zeroY:1197.3,xEnd:1375,tfs:14.5,lfs:12,ylx:1002.7,yly:1276.7,tx:1210,ty:1183,age:"14M"});
</script></body></html>
